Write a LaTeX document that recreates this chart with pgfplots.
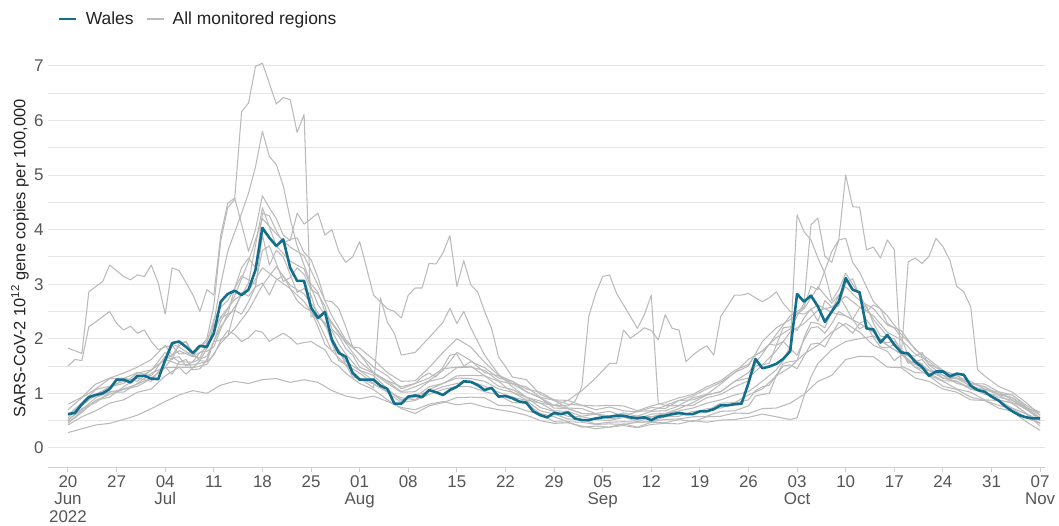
\documentclass[border=0pt]{standalone}
\usepackage{pgfplots}
\pgfplotsset{compat=1.18}
\usepackage{fontspec}
\setmainfont{Liberation Sans}
\definecolor{walescol}{RGB}{17,110,140}
\definecolor{greycol}{RGB}{186,186,186}
\definecolor{gridcol}{RGB}{230,230,230}
\definecolor{axiscol}{RGB}{208,208,208}
\definecolor{ticktext}{RGB}{85,85,85}
\definecolor{legtext}{RGB}{34,34,34}
\begin{document}
\begin{tikzpicture}
\path[use as bounding box] (0,0) rectangle (1059bp,526bp);
\begin{axis}[
  at={(48bp,59bp)}, anchor=south west,
  scale only axis, width=997bp, height=417.5bp,
  xmin=-2.88, xmax=140.7, ymin=-0.35, ymax=7.3,
  axis x line*=bottom, axis y line*=left,
  x axis line style={draw=axiscol, line width=1bp},
  y axis line style={draw=none},
  xtick={0,7,...,140},
  xticklabels={{20\\Jun\\2022},27,{04\\Jul},11,18,25,{01\\Aug},08,15,22,29,{05\\Sep},12,19,26,{03\\Oct},10,17,24,31,{07\\Nov}},
  xticklabel style={align=center, font=\fontsize{17}{17.5}\selectfont, text=ticktext},
  xtick style={draw=axiscol, line width=1bp},
  tick align=outside, major tick length=5bp, minor tick length=0pt,
  ytick={0,1,...,7},
  minor ytick={0.5,1.5,...,6.5},
  ytick style={draw=none},
  ymajorgrids, yminorgrids,
  major grid style={draw=gridcol, line width=1bp},
  minor grid style={draw=gridcol, line width=1bp},
  yticklabel style={font=\fontsize{17}{20}\selectfont, text=ticktext, xshift=4bp},
  /pgf/number format/assume math mode=true,
  ylabel={SARS-CoV-2 10\textsuperscript{12} gene copies per 100,000},
  ylabel style={at={(axis description cs:-0.0281,0.5)}, anchor=center, font=\fontsize{16.5}{20}\selectfont, text=legtext},
  legend style={at={(0.01,1.073)}, anchor=west, draw=none, fill=none, inner sep=0pt,
    font=\fontsize{17.5}{20}\selectfont, text=legtext,
    /tikz/every odd column/.append style={column sep=6bp},
    /tikz/every even column/.append style={column sep=11bp}},
  legend columns=2,
  legend image code/.code={\draw[#1] (0bp,0bp) -- (17bp,0bp);},
  every axis plot/.append style={line join=round},
]
\addlegendimage{line width=2.6bp, color=walescol}
\addlegendentry{Wales}
\addlegendimage{line width=1.1bp, color=greycol}
\addlegendentry{All monitored regions}

\pgfplotsset{gl/.style={color=greycol, line width=1.05bp, forget plot}}
% G1
\addplot[gl] coordinates {(0,1.83)(2,1.73)(3,2.86)(5,3.05)(6,3.35)(8,3.14)(9,3.08)(10,3.17)(11,3.14)(12,3.35)(13,3.02)(14,2.45)(15,3.3)(16,3.25)(18,2.8)(19,2.5)(20,2.9)(21,2.8)(22,3.9)(23,4.48)(24,4.58)(25,4.1)(26,3.6)(27,4.0)(28,4.62)(29,4.4)(30,4.2)(31,3.9)(32,3.8)(33,4.3)(34,4.1)(35,4.2)(36,4.3)(37,3.9)(38,4.0)(39,3.6)(40,3.4)(41,3.5)(42,3.78)(43,3.3)(44,2.8)(46,2.55)(47,2.5)(48,2.38)(49,2.8)(50,2.93)(51,2.93)(52,3.38)(53,3.37)(54,3.57)(55,3.89)(56,2.96)(57,3.43)(58,2.99)(59,2.86)(60,2.5)(61,2.19)(62,1.67)(63,1.49)(64,1.3)(66,1.25)(68,0.98)(70,0.88)(72,0.8)(74,0.78)(76,0.7)(78,0.75)(80,0.68)(82,0.66)(84,0.74)(86,0.72)(88,0.87)(90,0.95)(92,1.08)(94,1.2)(96,1.38)(98,1.5)(100,1.95)(102,2.2)(104,2.35)(106,2.55)(108,2.95)(110,2.65)(112,2.95)(114,2.7)(116,2.55)(118,2.25)(120,2.15)(122,1.8)(124,1.62)(126,1.42)(128,1.33)(130,1.18)(132,1.17)(134,1.03)(136,0.97)(138,0.75)(140,0.6)};
% G2
\addplot[gl] coordinates {(0,1.5)(1,1.62)(2,1.6)(3,2.22)(4,2.31)(6,2.5)(7,2.28)(8,2.16)(9,2.23)(10,2.1)(11,2.16)(12,1.95)(13,1.8)(14,1.85)(15,1.88)(16,1.72)(18,1.75)(20,1.95)(21,2.3)(22,3.0)(23,3.6)(24,3.95)(25,4.3)(26,4.67)(27,5.15)(28,5.8)(29,5.34)(30,5.19)(31,4.8)(32,4.2)(33,3.7)(34,3.35)(35,3.0)(36,2.85)(37,2.5)(38,2.3)(40,1.95)(42,1.72)(44,1.48)(46,1.32)(48,1.08)(50,1.18)(52,1.28)(54,1.45)(56,1.48)(58,1.5)(60,1.32)(62,1.22)(64,1.02)(66,0.93)(68,0.74)(70,0.67)(72,0.58)(74,0.57)(76,0.52)(78,0.5)(80,0.56)(82,0.53)(84,0.62)(86,0.63)(88,0.68)(90,0.73)(92,0.82)(94,0.88)(96,0.97)(98,1.03)(100,1.22)(102,1.43)(103,1.6)(104,1.86)(105,4.27)(106,3.96)(107,3.81)(108,3.48)(109,3.2)(110,2.7)(111,2.9)(112,3.2)(113,3.0)(114,2.8)(116,2.35)(118,2.05)(120,1.75)(122,1.62)(124,1.42)(126,1.33)(128,1.18)(130,1.12)(132,0.98)(134,0.97)(136,0.83)(138,0.72)(140,0.55)};
% G3
\addplot[gl] coordinates {(0,0.45)(2,0.68)(4,0.87)(6,0.93)(8,1.12)(10,1.28)(12,1.22)(14,1.57)(15,1.9)(16,1.85)(18,1.68)(19,1.85)(20,2.0)(21,2.6)(22,3.8)(23,4.4)(24,4.55)(25,6.16)(26,6.32)(27,6.99)(28,7.05)(29,6.68)(30,6.3)(31,6.42)(32,6.38)(33,5.78)(34,6.11)(35,2.4)(36,2.45)(37,2.25)(38,2.15)(39,1.9)(40,1.72)(42,1.42)(44,1.33)(46,1.08)(48,0.87)(50,0.93)(52,1.12)(54,1.18)(56,1.28)(58,1.27)(60,1.22)(62,1.08)(64,1.02)(66,0.88)(68,0.82)(70,0.78)(72,0.77)(73,0.85)(74,1.12)(75,2.41)(76,2.83)(77,3.14)(78,3.17)(79,2.83)(80,2.62)(82,2.19)(83,2.44)(84,2.8)(85,0.82)(86,0.78)(88,0.87)(90,0.88)(92,0.97)(94,1.03)(96,1.22)(98,1.28)(100,1.52)(102,1.78)(104,2.12)(106,2.28)(108,2.52)(110,2.58)(112,2.78)(114,2.58)(116,2.42)(118,2.12)(120,1.98)(122,1.72)(124,1.58)(126,1.38)(128,1.32)(130,1.18)(132,1.12)(134,0.98)(136,0.92)(138,0.73)(140,0.65)};
% G4
\addplot[gl] coordinates {(0,0.28)(2,0.35)(4,0.42)(6,0.45)(8,0.52)(10,0.6)(12,0.72)(14,0.85)(16,0.97)(18,1.05)(20,1.0)(22,1.15)(24,1.22)(26,1.18)(28,1.25)(30,1.27)(32,1.2)(34,1.25)(36,1.2)(38,1.05)(40,0.95)(42,0.9)(44,0.95)(46,0.85)(48,0.74)(50,0.7)(52,0.8)(54,0.85)(56,0.79)(58,0.82)(60,0.75)(62,0.7)(64,0.66)(66,0.6)(68,0.5)(70,0.45)(72,0.46)(74,0.4)(76,0.35)(78,0.38)(80,0.41)(82,0.37)(84,0.43)(86,0.45)(88,0.44)(90,0.5)(92,0.47)(94,0.51)(96,0.52)(98,0.56)(100,0.62)(102,0.57)(104,0.52)(105,0.55)(106,0.95)(107,1.3)(108,1.55)(110,1.8)(112,1.95)(114,2.0)(116,2.05)(118,1.88)(120,1.72)(122,1.48)(124,1.32)(126,1.13)(128,1.07)(130,0.93)(132,0.87)(134,0.78)(136,0.72)(138,0.55)(140,0.45)};
% G5
\addplot[gl] coordinates {(0,0.55)(2,0.82)(4,0.98)(6,1.12)(8,1.18)(10,1.37)(12,1.43)(14,1.62)(16,1.78)(18,1.67)(20,1.83)(22,2.4)(24,2.72)(26,2.88)(28,3.3)(30,3.1)(32,2.92)(34,2.68)(36,2.32)(38,1.78)(40,1.52)(42,1.28)(44,1.1)(45,2.75)(46,2.3)(47,2.1)(48,1.7)(50,1.75)(52,2.02)(54,2.3)(55,2.56)(56,2.28)(57,2.5)(58,2.2)(60,1.7)(62,1.35)(64,1.12)(66,0.93)(68,0.86)(70,0.78)(72,0.87)(74,1.05)(76,1.28)(78,1.55)(79,1.55)(80,2.16)(81,2.01)(82,2.1)(83,2.2)(84,2.15)(85,1.98)(86,2.44)(87,2.19)(88,2.16)(89,1.58)(90,1.7)(91,1.8)(92,1.87)(93,1.7)(94,2.41)(95,2.6)(96,2.8)(97,2.8)(98,2.83)(99,2.75)(100,2.68)(101,2.75)(102,2.86)(103,2.65)(104,2.5)(106,2.45)(108,2.62)(110,2.48)(112,2.42)(114,2.28)(116,2.12)(118,1.88)(120,1.72)(122,1.53)(124,1.42)(126,1.28)(128,1.22)(130,1.08)(132,1.02)(134,0.93)(136,0.87)(138,0.7)(140,0.55)};
% G6
\addplot[gl] coordinates {(0,0.6)(2,0.83)(4,1.07)(6,1.13)(8,1.22)(10,1.28)(12,1.42)(14,1.75)(16,1.58)(18,1.57)(20,1.68)(22,2.22)(24,2.58)(26,3.02)(28,4.4)(30,3.7)(32,3.42)(34,3.28)(36,2.62)(38,2.28)(40,1.92)(42,1.58)(44,1.37)(46,1.18)(48,1.02)(50,1.03)(52,1.22)(54,1.28)(56,1.47)(58,1.48)(60,1.42)(62,1.23)(64,1.17)(66,1.03)(68,0.92)(70,0.78)(72,0.72)(74,0.63)(76,0.62)(78,0.58)(80,0.57)(82,0.58)(84,0.57)(86,0.63)(88,0.72)(90,0.83)(92,0.97)(94,1.03)(96,1.22)(98,1.38)(100,1.72)(102,2.08)(104,2.42)(106,2.58)(107,2.96)(108,2.9)(110,3.6)(111,3.81)(112,5.0)(113,4.42)(114,4.41)(115,3.63)(116,3.68)(117,3.48)(118,3.81)(119,3.63)(120,1.5)(122,1.38)(124,1.37)(126,1.23)(128,1.22)(130,1.08)(132,1.02)(134,0.88)(136,0.82)(138,0.63)(140,0.5)};
% G7
\addplot[gl] coordinates {(0,0.5)(2,0.72)(4,0.83)(6,1.02)(8,1.08)(10,1.17)(12,1.28)(14,1.47)(16,1.48)(18,1.47)(20,1.53)(22,1.92)(24,2.18)(26,2.52)(28,2.98)(30,3.32)(32,2.98)(34,2.82)(36,2.48)(38,2.02)(40,1.58)(42,1.42)(44,1.23)(46,1.07)(48,0.88)(50,0.97)(52,1.03)(54,1.12)(56,1.18)(58,1.22)(60,1.13)(62,1.02)(64,0.93)(66,0.87)(68,0.68)(70,0.62)(72,0.53)(74,0.52)(76,0.44)(78,0.47)(80,0.48)(82,0.47)(84,0.48)(86,0.57)(88,0.58)(90,0.67)(92,0.68)(94,0.82)(96,0.83)(98,0.97)(100,1.08)(102,1.32)(104,1.48)(106,1.72)(108,1.88)(110,2.12)(112,2.28)(114,2.12)(116,1.88)(118,1.77)(119,1.6)(120,1.7)(121,3.41)(122,3.48)(123,3.38)(124,3.51)(125,3.84)(126,3.69)(127,3.44)(128,2.96)(129,2.86)(130,2.59)(131,1.43)(132,1.32)(134,1.13)(136,1.02)(138,0.83)(140,0.6)};
% G8
\addplot[gl] coordinates {(0,0.7)(2,0.92)(4,1.08)(6,1.27)(8,1.28)(10,1.22)(12,1.43)(14,1.62)(16,1.53)(18,1.52)(20,1.58)(22,2.32)(24,2.78)(26,3.42)(28,4.2)(30,3.92)(32,3.68)(34,3.52)(36,2.98)(38,2.42)(40,1.98)(42,1.72)(44,1.38)(46,1.22)(48,1.03)(50,1.12)(52,1.23)(54,1.42)(56,1.75)(58,1.6)(60,1.38)(62,1.32)(64,1.18)(66,1.12)(68,0.93)(70,0.87)(72,0.73)(74,0.72)(76,0.63)(78,0.67)(80,0.58)(82,0.67)(84,0.68)(86,0.77)(88,0.78)(90,0.92)(92,0.98)(94,1.17)(96,1.38)(98,1.62)(100,1.78)(102,2.02)(104,2.18)(106,2.65)(107,4.09)(108,4.21)(109,3.51)(110,3.4)(111,3.81)(112,3.84)(113,3.4)(114,3.22)(116,2.68)(118,2.42)(120,2.08)(122,1.82)(124,1.53)(126,1.42)(128,1.28)(130,1.22)(132,1.08)(134,1.02)(136,0.88)(138,0.72)(140,0.5)};
% G9
\addplot[gl] coordinates {(0,0.48)(1,0.55)(2,0.65)(4,0.87)(6,0.98)(8,1.07)(10,1.13)(12,1.27)(14,1.48)(15,1.35)(16,1.57)(17,1.62)(18,1.43)(19,1.45)(20,1.62)(21,1.95)(22,1.98)(23,2.05)(24,2.52)(25,2.85)(26,2.78)(27,2.95)(28,3.9)(29,3.35)(30,3.62)(31,3.5)(32,3.18)(33,2.85)(34,2.92)(35,2.8)(36,2.38)(37,2.3)(38,1.92)(39,1.6)(40,1.53)(42,1.37)(44,1.18)(46,1.02)(48,0.83)(50,0.87)(52,0.98)(54,1.07)(56,1.13)(58,1.12)(60,1.03)(62,0.97)(64,0.83)(66,0.82)(68,0.63)(70,0.57)(72,0.48)(74,0.47)(76,0.43)(78,0.44)(80,0.43)(82,0.47)(84,0.48)(86,0.52)(88,0.53)(90,0.57)(92,0.58)(94,0.67)(96,0.68)(98,0.77)(99,0.95)(100,0.98)(101,1.0)(102,1.32)(103,1.55)(104,1.58)(105,1.6)(106,2.02)(107,2.3)(108,2.28)(109,2.2)(110,2.52)(111,2.8)(112,2.58)(113,2.35)(114,2.57)(115,2.6)(116,2.28)(117,2.05)(118,2.02)(119,2.0)(120,1.78)(121,1.55)(122,1.57)(123,1.55)(124,1.33)(126,1.22)(128,1.08)(130,1.02)(132,0.88)(134,0.87)(136,0.73)(138,0.62)(140,0.45)};
% G10
\addplot[gl] coordinates {(0,0.6)(2,0.78)(4,0.97)(6,1.08)(8,1.27)(10,1.38)(12,1.32)(14,1.68)(15,1.62)(16,1.92)(17,1.95)(18,1.73)(19,1.6)(20,1.82)(21,2.25)(22,2.38)(23,2.45)(24,2.92)(25,3.3)(26,3.48)(27,3.3)(28,4.3)(29,4.25)(30,3.98)(31,3.75)(32,3.82)(33,3.85)(34,3.58)(35,3.45)(36,3.12)(37,2.7)(38,2.68)(39,2.55)(40,2.22)(41,1.85)(42,1.83)(44,1.62)(46,1.38)(48,1.22)(50,1.23)(52,1.47)(54,1.75)(56,2.0)(58,1.85)(60,1.57)(62,1.33)(64,1.22)(66,1.03)(68,0.92)(70,0.73)(72,0.72)(74,0.63)(76,0.62)(78,0.58)(80,0.64)(82,0.58)(84,0.67)(86,0.68)(88,0.77)(90,0.78)(92,0.92)(94,0.98)(96,1.12)(98,1.23)(99,1.5)(100,1.52)(101,1.55)(102,1.88)(103,2.2)(104,2.22)(105,2.15)(106,2.38)(107,2.55)(108,2.32)(109,2.7)(110,2.58)(111,2.6)(112,3.02)(113,3.1)(114,2.78)(115,2.5)(116,2.62)(117,2.55)(118,2.28)(119,2.2)(120,2.02)(121,1.7)(122,1.68)(123,1.75)(124,1.52)(126,1.33)(128,1.27)(130,1.13)(132,1.07)(134,0.98)(136,0.92)(138,0.73)(140,0.55)};
% G11
\addplot[gl] coordinates {(0,0.52)(2,0.7)(4,0.92)(6,1.03)(8,1.02)(10,1.18)(12,1.37)(14,1.48)(15,1.65)(16,1.67)(17,1.5)(18,1.58)(19,1.75)(20,1.77)(21,1.85)(22,2.18)(23,2.45)(24,2.52)(25,2.45)(26,2.68)(27,2.95)(28,3.02)(29,2.8)(30,3.08)(31,3.15)(32,2.92)(33,2.7)(34,2.58)(35,2.5)(36,2.22)(37,1.9)(38,1.78)(39,1.8)(40,1.52)(41,1.3)(42,1.28)(44,1.17)(46,1.03)(48,0.92)(50,0.88)(52,1.07)(54,1.18)(56,1.32)(58,1.33)(60,1.32)(62,1.13)(64,1.07)(66,0.93)(68,0.82)(70,0.68)(72,0.67)(74,0.58)(76,0.62)(78,0.53)(80,0.57)(82,0.48)(84,0.57)(86,0.58)(88,0.62)(90,0.63)(92,0.72)(94,0.73)(96,0.82)(98,0.88)(99,1.05)(100,1.12)(101,1.15)(102,1.33)(103,1.5)(104,1.52)(105,1.45)(106,1.68)(107,1.9)(108,1.92)(109,1.85)(110,2.08)(111,2.3)(112,2.22)(113,2.1)(114,2.28)(115,2.35)(116,2.17)(117,1.95)(118,1.93)(119,1.95)(120,1.82)(121,1.58)(122,1.58)(123,1.62)(124,1.47)(126,1.28)(128,1.22)(130,1.08)(132,1.02)(134,0.88)(136,0.82)(138,0.63)(140,0.4)};
% G12
\addplot[gl] coordinates {(0,0.42)(2,0.57)(4,0.68)(6,0.82)(8,0.88)(10,1.02)(12,1.08)(14,1.32)(15,1.4)(16,1.48)(17,1.35)(18,1.47)(19,1.6)(20,1.58)(21,1.7)(22,1.97)(23,2.15)(24,2.08)(25,1.95)(26,2.02)(27,2.15)(28,2.12)(29,1.95)(30,2.03)(31,2.1)(32,2.02)(33,1.9)(34,1.93)(35,1.95)(36,1.87)(37,1.8)(38,1.58)(39,1.5)(40,1.37)(42,1.18)(44,1.07)(46,0.88)(48,0.72)(50,0.63)(52,0.77)(54,0.83)(56,0.92)(58,0.93)(60,0.92)(62,0.78)(64,0.77)(66,0.68)(68,0.62)(70,0.48)(72,0.47)(74,0.38)(76,0.4)(78,0.38)(80,0.44)(82,0.38)(84,0.47)(86,0.46)(88,0.52)(90,0.48)(92,0.57)(94,0.58)(96,0.64)(98,0.63)(100,0.72)(102,0.73)(104,0.82)(106,0.98)(108,1.22)(110,1.33)(112,1.62)(114,1.68)(116,1.67)(118,1.48)(120,1.47)(122,1.28)(124,1.22)(126,1.08)(128,1.02)(130,0.88)(132,0.87)(134,0.73)(136,0.67)(138,0.48)(140,0.32)};
% G13
\addplot[gl] coordinates {(0,0.8)(2,0.93)(4,1.17)(6,1.28)(8,1.37)(10,1.48)(12,1.62)(14,1.88)(15,1.7)(16,1.87)(17,1.95)(18,1.68)(19,1.65)(20,1.92)(21,2.35)(22,2.58)(23,2.7)(24,2.92)(25,3.15)(26,3.08)(27,3.0)(28,3.62)(29,3.7)(30,3.38)(31,3.05)(32,3.12)(33,3.3)(34,3.18)(35,2.9)(36,2.82)(37,2.6)(38,2.18)(39,2.05)(40,1.82)(41,1.7)(42,1.48)(44,1.37)(46,1.23)(48,1.12)(50,1.18)(51,1.3)(52,1.37)(53,1.3)(54,1.48)(55,1.7)(56,1.72)(57,1.5)(58,1.58)(60,1.47)(62,1.28)(64,1.22)(66,1.08)(68,1.02)(70,0.88)(72,0.87)(74,0.78)(76,0.77)(78,0.78)(80,0.77)(82,0.68)(84,0.77)(86,0.83)(88,0.92)(90,0.98)(92,1.12)(94,1.23)(96,1.42)(98,1.53)(99,1.7)(100,1.77)(101,1.9)(102,1.88)(103,1.95)(104,1.82)(105,1.7)(106,1.98)(107,2.2)(108,2.22)(109,2.1)(110,2.28)(111,2.5)(112,2.42)(113,2.35)(114,2.18)(115,2.25)(116,2.02)(117,1.85)(118,1.83)(119,1.9)(120,1.72)(122,1.48)(124,1.42)(126,1.28)(128,1.27)(130,1.18)(132,1.12)(134,0.98)(136,0.97)(138,0.78)(140,0.65)};
% Wales
\addplot[color=walescol, line width=2.6bp, forget plot] coordinates {(0,0.62)(1,0.64)(2,0.80)(3,0.93)(4,0.97)(5,1.00)(6,1.08)(7,1.25)(8,1.25)(9,1.20)(10,1.32)(11,1.32)(12,1.27)(13,1.26)(14,1.61)(15,1.92)(16,1.95)(17,1.85)(18,1.74)(19,1.87)(20,1.85)(21,2.10)(22,2.68)(23,2.82)(24,2.88)(25,2.80)(26,2.90)(27,3.26)(28,4.03)(29,3.85)(30,3.70)(31,3.82)(32,3.30)(33,3.06)(34,3.06)(35,2.57)(36,2.38)(37,2.49)(38,1.98)(39,1.74)(40,1.67)(41,1.37)(42,1.25)(43,1.25)(44,1.25)(45,1.14)(46,1.08)(47,0.81)(48,0.81)(49,0.94)(50,0.96)(51,0.93)(52,1.06)(53,1.02)(54,0.97)(55,1.06)(56,1.12)(57,1.22)(58,1.21)(59,1.15)(60,1.06)(61,1.10)(62,0.94)(63,0.95)(64,0.91)(65,0.85)(66,0.83)(67,0.67)(68,0.60)(69,0.56)(70,0.64)(71,0.62)(72,0.65)(73,0.54)(74,0.51)(75,0.51)(76,0.54)(77,0.56)(78,0.57)(79,0.59)(80,0.59)(81,0.56)(82,0.54)(83,0.56)(84,0.51)(85,0.57)(86,0.59)(87,0.62)(88,0.64)(89,0.62)(90,0.62)(91,0.67)(92,0.67)(93,0.71)(94,0.78)(95,0.78)(96,0.80)(97,0.81)(98,1.19)(99,1.63)(100,1.46)(101,1.49)(102,1.54)(103,1.63)(104,1.77)(105,2.82)(106,2.68)(107,2.79)(108,2.59)(109,2.31)(110,2.50)(111,2.68)(112,3.11)(113,2.90)(114,2.85)(115,2.19)(116,2.17)(117,1.93)(118,2.07)(119,1.89)(120,1.75)(121,1.73)(122,1.58)(123,1.48)(124,1.32)(125,1.40)(126,1.40)(127,1.31)(128,1.36)(129,1.34)(130,1.14)(131,1.06)(132,1.03)(133,0.94)(134,0.87)(135,0.76)(136,0.67)(137,0.60)(138,0.56)(139,0.54)(140,0.54)};
\end{axis}
\end{tikzpicture}
\end{document}
